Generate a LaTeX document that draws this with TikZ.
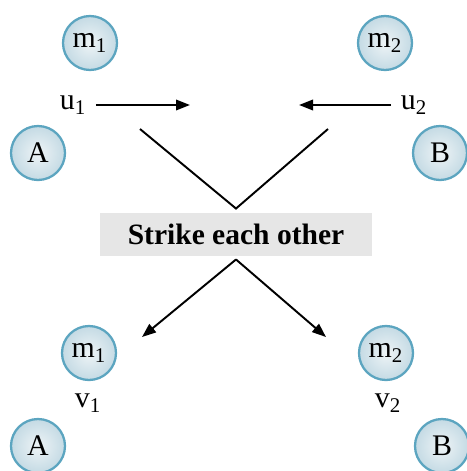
\documentclass[tikz,border=0pt]{standalone}
\usepackage{fontspec}
\setmainfont{Liberation Serif}
\usetikzlibrary{arrows.meta,positioning}
\definecolor{rim}{RGB}{92,165,192}
\definecolor{ballin}{RGB}{238,244,246}
\definecolor{ballout}{RGB}{196,218,228}
\definecolor{tagfill}{RGB}{230,230,230}

\begin{document}
\begin{tikzpicture}[x=0.2mm, y=-0.2mm, >={Triangle[length=2.8mm, width=2.1mm]},
    line width=1.1pt,
    ball/.style={circle, draw=rim, line width=1.3pt, inner color=ballin,
                 outer color=ballout, minimum size=10.8mm, inner sep=0pt,
                 font=\fontsize{17}{19}\selectfont},
    lab/.style={font=\fontsize{17}{19}\selectfont, inner sep=1pt},
    tag/.style={rectangle, fill=tagfill, minimum width=54.2mm, minimum height=8.6mm,
                font=\bfseries\fontsize{16.8}{20}\selectfont}]
  \useasboundingbox (0,0) rectangle (467,471);
  % before
  \node[ball] (m1a) at (90,43)   {m\textsubscript{1}};
  \node[ball] (m2a) at (385,43)  {m\textsubscript{2}};
  \node[ball] (A1)  at (38,153)  {A};
  \node[ball] (B1)  at (440,153) {B};
  \node[lab]  (u1)  at (73,105)  {u\textsubscript{1}};
  \node[lab]  (u2)  at (414,105) {u\textsubscript{2}};
  % strike
  \node[tag] (hit) at (236,234) {Strike each other};
  \coordinate (vtop) at ([yshift=0.6mm]hit.north);
  \coordinate (vbot) at ([yshift=-0.6mm]hit.south);
  % after
  \node[ball] (m1b) at (89,353)  {m\textsubscript{1}};
  \node[ball] (m2b) at (386,353) {m\textsubscript{2}};
  \node[lab]  (v1)  at (88,403)  {v\textsubscript{1}};
  \node[lab]  (v2)  at (388,403) {v\textsubscript{2}};
  \node[ball] (A2)  at (38,446)  {A};
  \node[ball] (B2)  at (442,446) {B};

  \coordinate (u1e) at (190,0);
  \coordinate (u2e) at (299,0);
  \coordinate (l1) at (140,129);
  \coordinate (r1) at (328,129);
  \coordinate (l2) at (142,337);
  \coordinate (r2) at (326,337);

  \draw[->, shorten <=1.4mm] (u1.east) -- (u1.east -| u1e);
  \draw[->, shorten <=1.4mm] (u2.west) -- (u2.west -| u2e);
  \draw (l1) -- (vtop) -- (r1);
  \draw[->] (vbot) -- (l2);
  \draw[->] (vbot) -- (r2);
\end{tikzpicture}
\end{document}
